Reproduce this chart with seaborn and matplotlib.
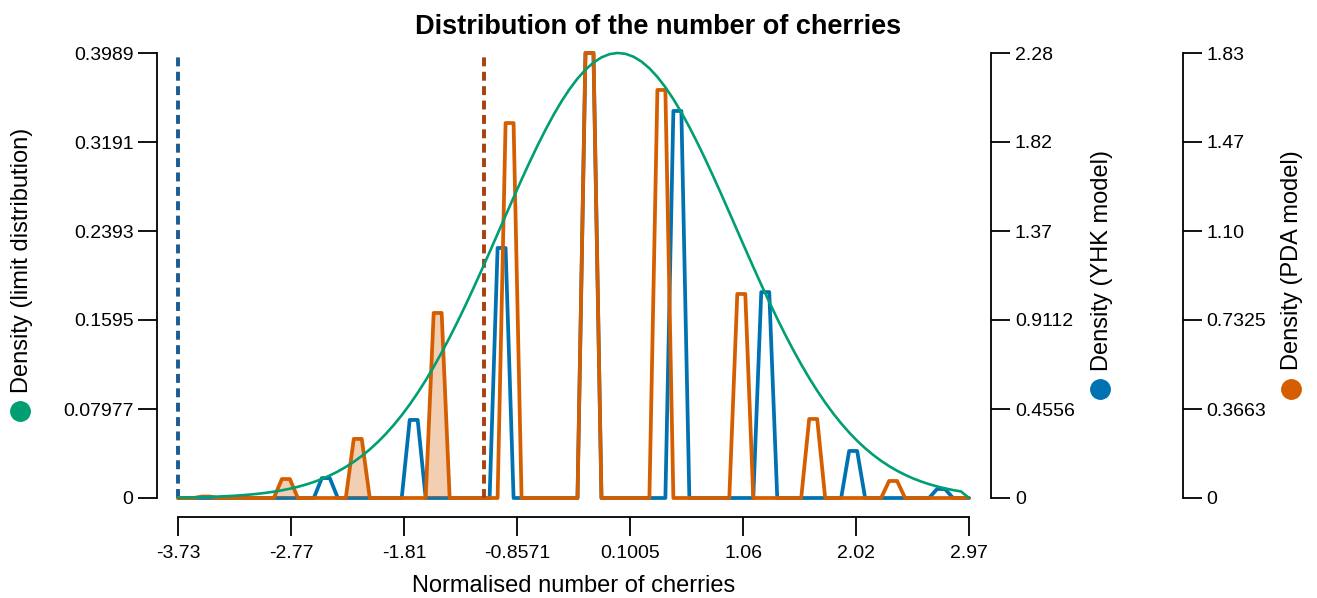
import numpy as np
import seaborn as sns
import matplotlib.pyplot as plt

sns.set_theme(style="ticks")
plt.rcParams["font.family"] = ["Liberation Sans", "DejaVu Sans"]
plt.rcParams["axes.linewidth"] = 1.3
plt.rcParams["text.color"] = "black"
plt.rcParams["xtick.color"] = "black"
plt.rcParams["ytick.color"] = "black"
plt.rcParams["axes.labelcolor"] = "black"
plt.rcParams["axes.edgecolor"] = "black"

# colours (Okabe-Ito)
GREEN, BLUE, ORANGE = "#009E73", "#0072B2", "#D55E00"
BLUE_DARK, ORANGE_DARK = "#1B5B94", "#A8400F"

# x grid of the normalised number of cherries
x_min, x_max = -3.7299, 2.9733
n_grid = 100
x_grid = np.linspace(x_min, x_max, n_grid)

# limit distribution = standard normal density
limit_density = np.exp(-x_grid ** 2 / 2) / np.sqrt(2 * np.pi)
limit_density[-1] = 0.0

# YHK model: grid index where each plateau starts, and its density
yhk_idx = [18, 29, 40, 51, 62, 73, 84, 95]
yhk_val = [0.102, 0.400, 1.281, 2.28, 1.983, 1.055, 0.241, 0.046]

# PDA model
pda_idx = [3, 13, 22, 32, 41, 51, 60, 70, 79, 89]
pda_val = [0.006, 0.078, 0.243, 0.761, 1.542, 1.83, 1.678, 0.839, 0.325, 0.070]

# smallest value reachable by each model (dashed lines)
yhk_min = -3.7299
pda_min = -1.138

x_labels = ["-3.73", "-2.77", "-1.81", "-0.8571", "0.1005", "1.06", "2.02", "2.97"]
left_max, left_labels = 0.3989, ["0", "0.07977", "0.1595", "0.2393", "0.3191", "0.3989"]
yhk_max, yhk_labels = 2.28, ["0", "0.4556", "0.9112", "1.37", "1.82", "2.28"]
pda_max, pda_labels = 1.83, ["0", "0.3663", "0.7325", "1.10", "1.47", "1.83"]

yhk = np.zeros(n_grid)
for i, v in zip(yhk_idx, yhk_val):
    yhk[i] = yhk[i + 1] = v
pda = np.zeros(n_grid)
for i, v in zip(pda_idx, pda_val):
    pda[i] = pda[i + 1] = v

fig = plt.figure(figsize=(13.17, 5.98), dpi=100)
ax = fig.add_axes([178 / 1317, 100 / 598, 791 / 1317, 445 / 598])
ax2 = ax.twinx()
ax3 = ax.twinx()
ax2.set_zorder(1)
ax3.set_zorder(2)
ax.set_zorder(3)
ax.patch.set_visible(False)

# YHK
sns.lineplot(x=x_grid, y=yhk, ax=ax2, color=BLUE, lw=2.7, clip_on=False)
ax2.axvline(yhk_min, color=BLUE_DARK, lw=2.8, dashes=(2.3, 1.4), clip_on=False)

# PDA
ax3.fill_between(x_grid, pda, where=x_grid <= pda_min, color=ORANGE, alpha=0.3,
                 lw=0, clip_on=False)
sns.lineplot(x=x_grid, y=pda, ax=ax3, color=ORANGE, lw=2.7, clip_on=False)
ax3.axvline(pda_min, color=ORANGE_DARK, lw=2.8, dashes=(2.3, 1.4), clip_on=False)

# limit distribution
sns.lineplot(x=x_grid, y=limit_density, ax=ax, color=GREEN, lw=1.9, clip_on=False)

ax.set_xlim(x_min, x_max)
ax.set_ylim(0, left_max)
ax2.set_ylim(0, yhk_max)
ax3.set_ylim(0, pda_max)

ax.set_xticks(np.linspace(x_min, x_max, len(x_labels)))
ax.set_yticks(np.linspace(0, left_max, len(left_labels)))
sns.despine(ax=ax, offset={"left": 15, "bottom": 14}, trim=True)
ax.set_xticklabels(x_labels)
ax.set_yticklabels(left_labels)

for a, top, labels, out in [(ax2, yhk_max, yhk_labels, 16), (ax3, pda_max, pda_labels, 154)]:
    sns.despine(ax=a, left=True, bottom=True, right=False, top=True)
    a.set_yticks(np.linspace(0, top, len(labels)), labels)
    a.spines["right"].set_position(("outward", out))
    a.spines["right"].set_bounds(0, top)
    a.grid(False)

for a in (ax, ax2, ax3):
    a.tick_params(axis="y", length=14, width=1.3, labelsize=14, pad=3, color="black")
ax.tick_params(axis="x", length=14, width=1.3, labelsize=14, pad=6, color="black")
ax.grid(False)

ax.set_xlabel("Normalised number of cherries", fontsize=17)
ax.xaxis.set_label_coords(0.5, -0.172)
ax.set_ylabel("")
ax2.set_ylabel("")
ax3.set_ylabel("")

fig.suptitle("Distribution of the number of cherries", x=0.5, y=0.955, va="center",
             fontsize=19.5, fontweight="bold")

# axis titles with coloured dots
for xt, xd, yd, label, col in [(0.0167, 0.0152, 0.3127, "Density (limit distribution)", GREEN),
                               (0.8367, 0.8352, 0.3495, "Density (YHK model)", BLUE),
                               (0.9810, 0.9803, 0.3495, "Density (PDA model)", ORANGE)]:
    fig.text(xt, 0.5645, label, rotation=90, ha="center", va="center", fontsize=17)
    ax.plot([xd], [yd], "o", color=col, ms=14, transform=fig.transFigure, clip_on=False)

fig.savefig("out.png", dpi=100)
